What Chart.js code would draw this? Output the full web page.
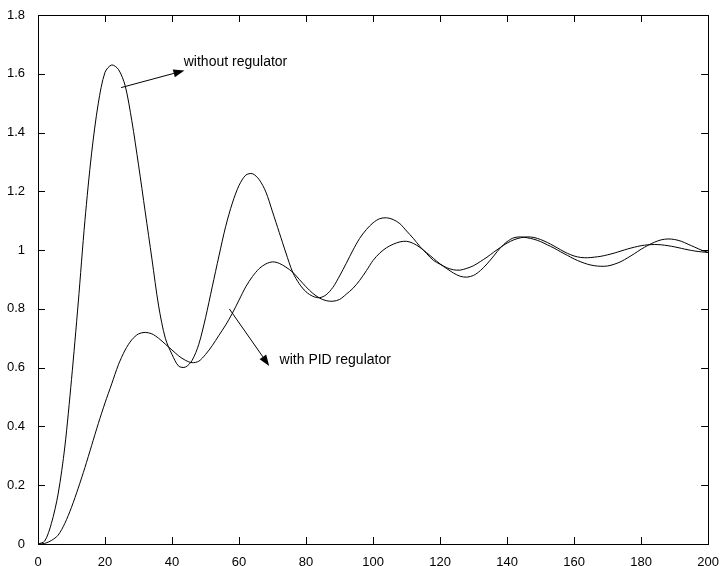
<!DOCTYPE html>
<html>
<head>
<meta charset="utf-8">
<script src="https://cdn.jsdelivr.net/npm/chart.js@4.4.1/dist/chart.umd.min.js"></script>
<style>
  html, body { margin: 0; padding: 0; background: #fff; }
  #grafico { display: block; }
</style>
</head>
<body>
<canvas id="grafico" width="722" height="566"></canvas>
<script>
// tiempo (paso 2)
const tiempo = [];
for (let t = 0; t <= 200; t += 2) tiempo.push(t);

// respuesta sin regulador
const sinRegulador = [
  0, 0.01, 0.07, 0.17, 0.33, 0.56, 0.82, 1.10, 1.33, 1.50,
  1.605, 1.63, 1.615, 1.56, 1.44, 1.29, 1.13, 0.97, 0.81, 0.70,
  0.645, 0.605, 0.602, 0.625, 0.68, 0.77, 0.875, 0.98, 1.08, 1.16,
  1.22, 1.255, 1.26, 1.24, 1.198, 1.13, 1.06, 0.99, 0.925, 0.885,
  0.858, 0.843, 0.838, 0.848, 0.873, 0.912, 0.955, 1.0, 1.04, 1.07,
  1.093, 1.107, 1.11, 1.104, 1.09, 1.065, 1.04, 1.012, 0.988, 0.965,
  0.952, 0.937, 0.922, 0.911, 0.908, 0.914, 0.93, 0.953, 0.98, 1.008,
  1.029, 1.042, 1.045, 1.042, 1.037, 1.029, 1.018, 1.007, 0.994, 0.982,
  0.97, 0.96, 0.952, 0.947, 0.945, 0.946, 0.952, 0.961, 0.974, 0.988,
  1.003, 1.016, 1.027, 1.035, 1.038, 1.036, 1.03, 1.02, 1.01, 1.0,
  0.992
];

// respuesta con regulador PID
const conPID = [
  0, 0.002, 0.012, 0.03, 0.07, 0.125, 0.19, 0.26, 0.335, 0.41,
  0.48, 0.545, 0.61, 0.66, 0.695, 0.715, 0.72, 0.715, 0.70, 0.68,
  0.66, 0.64, 0.625, 0.617, 0.622, 0.645, 0.675, 0.71, 0.745, 0.785,
  0.83, 0.875, 0.91, 0.937, 0.953, 0.96, 0.955, 0.942, 0.925, 0.9,
  0.875, 0.853, 0.837, 0.828, 0.826, 0.832, 0.85, 0.87, 0.897, 0.93,
  0.965, 0.99, 1.008, 1.02, 1.028, 1.03, 1.023, 1.009, 0.991, 0.972,
  0.953, 0.94, 0.933, 0.932, 0.938, 0.947, 0.961, 0.976, 0.993, 1.009,
  1.024, 1.035, 1.042, 1.045, 1.043, 1.036, 1.026, 1.014, 1.001, 0.989,
  0.98, 0.975, 0.974, 0.976, 0.979, 0.984, 0.99, 0.997, 1.004, 1.01,
  1.015, 1.018, 1.019, 1.018, 1.015, 1.011, 1.006, 1.001, 0.997, 0.994,
  0.992
];

const xTicks = [0, 20, 40, 60, 80, 100, 120, 140, 160, 180, 200];
const yTicks = [0, 0.2, 0.4, 0.6, 0.8, 1, 1.2, 1.4, 1.6, 1.8];

// anotaciones: texto y flecha en coordenadas de datos
const notaTextos = ["without regulator", "with PID regulator"];
const notaTextoX = [43.5, 72.1];
const notaTextoY = [1.64, 0.625];
const flechaDesde = [[24.8, 1.553], [57.1, 0.80]];
const flechaHasta = [[43.7, 1.611], [69.0, 0.606]];

const puntos = (ys) => tiempo.map((t, i) => ({ x: t, y: ys[i] }));

const marco = {
  id: "marco",
  afterDraw(chart) {
    const { ctx, chartArea: a, scales } = chart;
    const x = scales.x, y = scales.y;
    ctx.save();
    ctx.strokeStyle = "#000";
    ctx.lineWidth = 1;
    ctx.strokeRect(Math.round(a.left) + 0.5, Math.round(a.top) + 0.5,
      Math.round(a.right - a.left), Math.round(a.bottom - a.top));

    // marcas hacia dentro en los cuatro lados
    const tl = 7;
    ctx.beginPath();
    xTicks.forEach((v) => {
      const px = Math.round(x.getPixelForValue(v)) + 0.5;
      ctx.moveTo(px, a.bottom);
      ctx.lineTo(px, a.bottom - tl);
      ctx.moveTo(px, a.top);
      ctx.lineTo(px, a.top + tl);
    });
    yTicks.forEach((v) => {
      const py = Math.round(y.getPixelForValue(v)) + 0.5;
      ctx.moveTo(a.left, py);
      ctx.lineTo(a.left + tl, py);
      ctx.moveTo(a.right, py);
      ctx.lineTo(a.right - tl, py);
    });
    ctx.stroke();

    // flechas
    ctx.fillStyle = "#000";
    flechaDesde.forEach((d, i) => {
      const h = flechaHasta[i];
      const x0 = x.getPixelForValue(d[0]), y0 = y.getPixelForValue(d[1]);
      const x1 = x.getPixelForValue(h[0]), y1 = y.getPixelForValue(h[1]);
      const ang = Math.atan2(y1 - y0, x1 - x0);
      const largo = 11, ancho = 4;
      ctx.beginPath();
      ctx.moveTo(x0, y0);
      ctx.lineTo(x1 - largo * Math.cos(ang), y1 - largo * Math.sin(ang));
      ctx.stroke();
      ctx.beginPath();
      ctx.moveTo(x1, y1);
      ctx.lineTo(x1 - largo * Math.cos(ang) + ancho * Math.sin(ang),
        y1 - largo * Math.sin(ang) - ancho * Math.cos(ang));
      ctx.lineTo(x1 - largo * Math.cos(ang) - ancho * Math.sin(ang),
        y1 - largo * Math.sin(ang) + ancho * Math.cos(ang));
      ctx.closePath();
      ctx.fill();
    });

    // textos
    ctx.font = "14px 'Liberation Sans', Arial, sans-serif";
    ctx.textBaseline = "middle";
    ctx.textAlign = "left";
    notaTextos.forEach((txt, i) => {
      ctx.fillText(txt, x.getPixelForValue(notaTextoX[i]), y.getPixelForValue(notaTextoY[i]));
    });
    ctx.restore();
  },
};

const fuente = { family: "'Liberation Sans', Arial, sans-serif", size: 13 };

const linea = (datos) => ({
  data: puntos(datos),
  borderColor: "#000",
  borderWidth: 1,
  pointRadius: 0,
  tension: 0.3,
  fill: false,
});

new Chart(document.getElementById("grafico"), {
  type: "line",
  data: {
    datasets: [linea(sinRegulador), linea(conPID)],
  },
  options: {
    responsive: false,
    animation: false,
    layout: { padding: { top: 15, right: 13, left: 0, bottom: 0 } },
    plugins: { legend: { display: false }, tooltip: { enabled: false } },
    scales: {
      x: {
        type: "linear",
        min: 0,
        max: 200,
        grid: { display: false },
        border: { display: false },
        afterBuildTicks: (s) => { s.ticks = xTicks.map((v) => ({ value: v })); },
        afterFit: (s) => { s.height = 22; },
        ticks: { color: "#000", font: fuente, padding: 3, maxRotation: 0, autoSkip: false },
      },
      y: {
        type: "linear",
        min: 0,
        max: 1.8,
        grid: { display: false },
        border: { display: false },
        afterBuildTicks: (s) => { s.ticks = yTicks.map((v) => ({ value: v })); },
        afterFit: (s) => { s.width = 38; },
        ticks: { color: "#000", font: fuente, padding: 5, callback: (v) => String(v) },
      },
    },
  },
  plugins: [marco],
});
</script>
</body>
</html>
